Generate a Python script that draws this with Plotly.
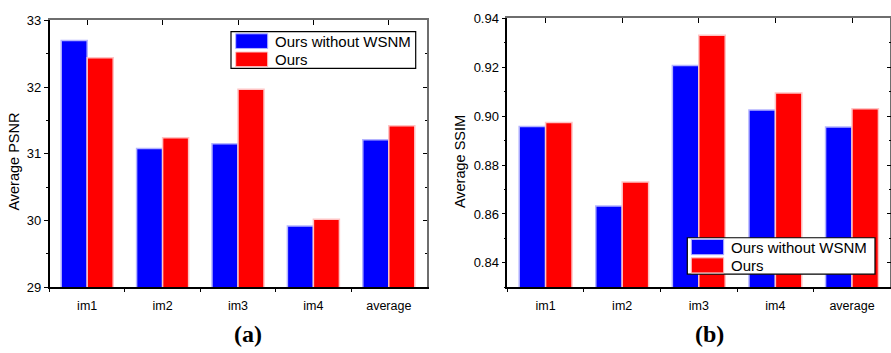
import plotly.graph_objects as go

categories = ["im1", "im2", "im3", "im4", "average"]
psnr_without = [32.70, 31.08, 31.15, 29.92, 31.21]
psnr_ours = [32.44, 31.24, 31.97, 30.02, 31.42]
ssim_without = [0.8958, 0.8633, 0.9208, 0.9025, 0.8956]
ssim_ours = [0.8974, 0.8731, 0.9331, 0.9095, 0.9031]
series_names = ["Ours without WSNM", "Ours"]

W, H = 891, 353
BLUE, RED = "#0000FF", "#FF0000"
BLUE_EDGE, RED_EDGE = "#B4B4FF", "#FFC4C4"
FONT = "Liberation Sans, Arial, sans-serif"


def px(x):
    return x / W


def py(y):
    return 1 - y / H


fig = go.Figure()
for vals, name, col, edge in [(psnr_without, series_names[0], BLUE, BLUE_EDGE),
                              (psnr_ours, series_names[1], RED, RED_EDGE)]:
    fig.add_trace(go.Bar(x=categories, y=vals, name=name, marker_color=col,
                         marker_line=dict(color=edge, width=1.5),
                         xaxis="x", yaxis="y", showlegend=False))
for vals, name, col, edge in [(ssim_without, series_names[0], BLUE, BLUE_EDGE),
                              (ssim_ours, series_names[1], RED, RED_EDGE)]:
    fig.add_trace(go.Bar(x=categories, y=vals, name=name, marker_color=col,
                         marker_line=dict(color=edge, width=1.5),
                         xaxis="x2", yaxis="y2", showlegend=False))
# empty traces to host the mirrored (top/right) frame axes
fig.add_trace(go.Scatter(x=[], y=[], xaxis="x3", yaxis="y3", showlegend=False))
fig.add_trace(go.Scatter(x=[], y=[], xaxis="x4", yaxis="y4", showlegend=False))

LEFT_X = [px(49.5), px(426.5)]
LEFT_Y = [py(292.7), py(14)]
RIGHT_X = [px(507.3), px(890.3)]
RIGHT_Y = [py(292.7), py(12)]
tickfont = dict(family=FONT, size=13, color="black")
xtickfont = dict(family=FONT, size=12.5, color="black")
frame_col = "#6e6e6e"

common_x = dict(type="category", categoryorder="array", categoryarray=categories,
                range=[-0.5, 4.5], showline=True, linecolor="black", linewidth=1.5,
                ticks="outside", tickson="boundaries", ticklen=3, tickcolor="black",
                ticklabelstandoff=6,
                showgrid=False, zeroline=False, tickfont=xtickfont)

fig.update_layout(
    width=W, height=H, margin=dict(l=0, r=0, t=0, b=0),
    paper_bgcolor="white", plot_bgcolor="white",
    barmode="group", bargap=0.31, bargroupgap=0,
    showlegend=False,
    xaxis=dict(domain=LEFT_X, anchor="y", **common_x),
    yaxis=dict(domain=LEFT_Y, anchor="x", range=[29, 33], tick0=29, dtick=1,
               showline=True, linecolor="black", linewidth=1.5,
               ticks="outside", ticklen=4, tickcolor="black",
               minor=dict(dtick=0.5, ticks="outside", ticklen=2, tickcolor="black"),
               showgrid=False, zeroline=False, tickfont=tickfont),
    xaxis2=dict(domain=RIGHT_X, anchor="y2", **common_x),
    yaxis2=dict(domain=RIGHT_Y, anchor="x2", range=[0.83, 0.94], tick0=0.84, dtick=0.02,
                tickformat=".2f",
                showline=True, linecolor="black", linewidth=1.5,
                ticks="outside", ticklen=4, tickcolor="black",
                minor=dict(dtick=0.01, ticks="outside", ticklen=2, tickcolor="black"),
                showgrid=False, zeroline=False, tickfont=tickfont),
    xaxis3=dict(overlaying="x", anchor="y", side="top", range=[-0.5, 4.5],
                tickvals=[0, 1, 2, 3, 4], ticks="inside", ticklen=5, tickcolor="black",
                showticklabels=False, showline=True, linecolor=frame_col, linewidth=1.5,
                showgrid=False, zeroline=False),
    yaxis3=dict(overlaying="y", anchor="x", side="right", range=[29, 33], dtick=1,
                ticks="inside", ticklen=4, tickcolor="black",
                minor=dict(dtick=0.5, ticks="inside", ticklen=2, tickcolor="black"),
                showticklabels=False, showline=True, linecolor=frame_col, linewidth=1.5,
                showgrid=False, zeroline=False),
    xaxis4=dict(overlaying="x2", anchor="y2", side="top", range=[-0.5, 4.5],
                tickvals=[0, 1, 2, 3, 4], ticks="inside", ticklen=5, tickcolor="black",
                showticklabels=False, showline=True, linecolor=frame_col, linewidth=1.5,
                showgrid=False, zeroline=False),
    yaxis4=dict(overlaying="y2", anchor="x2", side="right", range=[0.83, 0.94],
                tick0=0.84, dtick=0.02,
                ticks="inside", ticklen=4, tickcolor="black",
                minor=dict(dtick=0.01, ticks="inside", ticklen=2, tickcolor="black"),
                showticklabels=False, showline=True, linecolor=frame_col, linewidth=1.5,
                showgrid=False, zeroline=False),
)

annotations = [
    dict(text="Average PSNR", x=px(14.5), y=py(162), textangle=-90),
    dict(text="Average SSIM", x=px(460), y=py(162), textangle=-90),
]
for a in annotations:
    a.update(xref="paper", yref="paper", showarrow=False, xanchor="center", yanchor="middle",
             font=dict(family=FONT, size=14.5, color="black"))
annotations += [
    dict(text="<b>(a)</b>", x=px(247.5), y=py(342), xref="paper", yref="paper",
         showarrow=False, xanchor="center", yanchor="middle",
         font=dict(family="Liberation Serif, Times New Roman, serif", size=24, color="black")),
    dict(text="<b>(b)</b>", x=px(709.7), y=py(342), xref="paper", yref="paper",
         showarrow=False, xanchor="center", yanchor="middle",
         font=dict(family="Liberation Serif, Times New Roman, serif", size=24, color="black")),
]

shapes = []
# custom legends (box, swatches, labels)
legends = [
    dict(box=(231, 25.7, 415.7, 64), sw_x=(235.7, 267.7),
         rows=[(28, 43.3), (47, 62.3)], text_x=272.7),
    dict(box=(687.3, 241, 875, 279), sw_x=(691.3, 723.7),
         rows=[(242.7, 258.7), (262, 277.7)], text_x=729),
]
for lg in legends:
    x0, y0, x1, y1 = lg["box"]
    shapes.append(dict(type="rect", xref="paper", yref="paper",
                       x0=px(x0), x1=px(x1), y0=py(y1), y1=py(y0),
                       line=dict(color="black", width=1.2), fillcolor="white", layer="above"))
    for (r0, r1), name, col, edge in zip(lg["rows"], series_names, [BLUE, RED], [BLUE_EDGE, RED_EDGE]):
        shapes.append(dict(type="rect", xref="paper", yref="paper",
                           x0=px(lg["sw_x"][0]), x1=px(lg["sw_x"][1]), y0=py(r1), y1=py(r0),
                           line=dict(color=edge, width=1), fillcolor=col, layer="above"))
        annotations.append(dict(text=name, x=px(lg["text_x"]), y=py((r0 + r1) / 2),
                                xref="paper", yref="paper", showarrow=False,
                                xanchor="left", yanchor="middle",
                                font=dict(family=FONT, size=15, color="black")))

fig.update_layout(shapes=shapes, annotations=annotations)
fig.write_html("out.html")
